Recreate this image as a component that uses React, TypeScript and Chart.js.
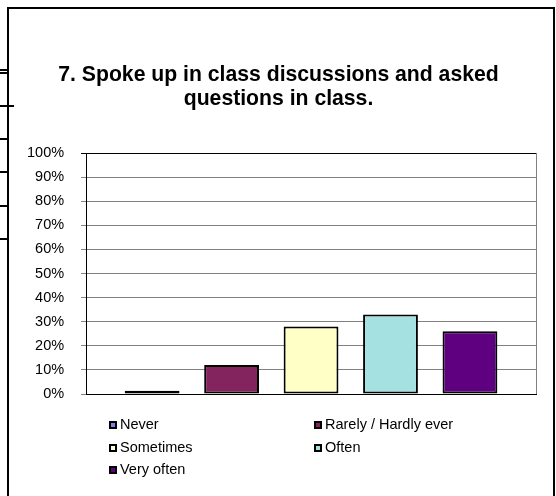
import React, { useEffect, useRef } from "react";
import { Chart, registerables } from "chart.js";

Chart.register(...registerables);

const titleLines = ["7. Spoke up in class discussions and asked", "questions in class."];
const categories = ["Never", "Rarely / Hardly ever", "Sometimes", "Often", "Very often"];
const values = [1.4, 12, 28, 33, 26];
const colors = ["#7F7FE6", "#84245F", "#FFFFC6", "#A6E1E1", "#5F0080"];
const yMin = 0;
const yMax = 100;
const yStep = 10;
const stubYs = [70, 73, 106, 139, 172, 206, 239];

const FONT = 'Arial, "Liberation Sans", sans-serif';

const titlePlugin = {
  id: "excelTitle",
  afterDraw(chart: any) {
    const { ctx } = chart;
    ctx.save();
    ctx.font = `bold 21.2px ${FONT}`;
    ctx.fillStyle = "#000";
    ctx.textAlign = "center";
    ctx.textBaseline = "alphabetic";
    const cx = chart.width / 2 - 2.5;
    titleLines.forEach((t, i) => ctx.fillText(t, cx, 72 + i * 23.5));
    ctx.restore();
  },
};

const legendPlugin = {
  id: "excelLegend",
  afterDraw(chart: any) {
    const { ctx, chartArea } = chart;
    ctx.save();
    ctx.font = `14.5px ${FONT}`;
    ctx.textBaseline = "middle";
    ctx.textAlign = "left";
    chart.data.datasets.forEach((ds: any, i: number) => {
      const col = i % 2;
      const row = Math.floor(i / 2);
      const x = Math.round(chartArea.left + (col ? 228 : 23));
      const y = chartArea.bottom + 31.3 + row * 22.4;
      const by = Math.round(y - 4);
      ctx.fillStyle = "#000";
      ctx.fillRect(x, by, 8, 8);
      ctx.fillStyle = ds.backgroundColor;
      ctx.fillRect(x + 2, by + 2, 4, 4);
      ctx.fillStyle = "#000";
      ctx.fillText(ds.label, x + 11, y);
    });
    ctx.restore();
  },
};

const frameplugin = {
  id: "plotFrame",
  beforeDatasetsDraw(chart: any) {
    const { ctx, chartArea } = chart;
    ctx.save();
    ctx.strokeStyle = "#808080";
    ctx.lineWidth = 1;
    ctx.beginPath();
    ctx.moveTo(Math.round(chartArea.right) + 0.5, chartArea.top);
    ctx.lineTo(Math.round(chartArea.right) + 0.5, chartArea.bottom);
    ctx.stroke();
    ctx.restore();
  },
};

function BarChart() {
  const ref = useRef<HTMLCanvasElement | null>(null);
  useEffect(() => {
    if (!ref.current) return;
    const chart = new Chart(ref.current, {
      type: "bar",
      data: {
        labels: [""],
        datasets: categories.map((c, i) => ({
          label: c,
          data: [values[i]],
          backgroundColor: colors[i],
          borderColor: "#000",
          borderWidth: 2,
          borderSkipped: false,
          categoryPercentage: 0.883,
          barPercentage: 0.69,
        })),
      },
      options: {
        animation: false,
        responsive: false,
        maintainAspectRatio: false,
        layout: { padding: { left: 1, right: 17, top: 144, bottom: 94 } },
        plugins: {
          legend: { display: false },
          tooltip: { enabled: false },
          title: { display: false },
        },
        scales: {
          x: {
            ticks: { display: false },
            grid: { display: false },
            border: { display: true, color: "#000", width: 1 },
          },
          y: {
            min: yMin,
            max: yMax,
            ticks: {
              stepSize: yStep,
              color: "#000",
              font: { family: FONT, size: 14.5 },
              padding: 17,
              callback: (v: any) => `${v}%`,
            },
            grid: {
              color: (c: any) => (c.tick && c.tick.value === yMax ? "#000" : "#808080"),
              tickLength: 5,
              lineWidth: 1,
            },
            border: { display: true, color: "#000", width: 1 },
          },
        },
      },
      plugins: [frameplugin, legendPlugin, titlePlugin],
    });
    return () => chart.destroy();
  }, []);
  return <canvas ref={ref} width={544} height={487} style={{ display: "block" }} />;
}

export default function App() {
  return (
    <div style={{ position: "absolute", left: 0, top: 0, width: 556, height: 496, overflow: "hidden", background: "#fff" }}>
      {stubYs.map((y, i) => (
        <div
          key={i}
          style={{ position: "absolute", left: 0, top: y - 1, width: i === 2 ? 14 : 8, height: 2, background: "#000" }}
        />
      ))}
      <div
        style={{
          position: "absolute",
          left: 7,
          top: 7,
          width: 544,
          height: 500,
          borderLeft: "2px solid #000",
          borderTop: "2px solid #000",
          borderRight: "2px solid #000",
          background: "#fff",
        }}
      >
        <BarChart />
      </div>
      {stubYs.map((y, i) =>
        i === 2 ? (
          <div key={"o" + i} style={{ position: "absolute", left: 9, top: y - 1, width: 5, height: 2, background: "#000" }} />
        ) : null
      )}
    </div>
  );
}
